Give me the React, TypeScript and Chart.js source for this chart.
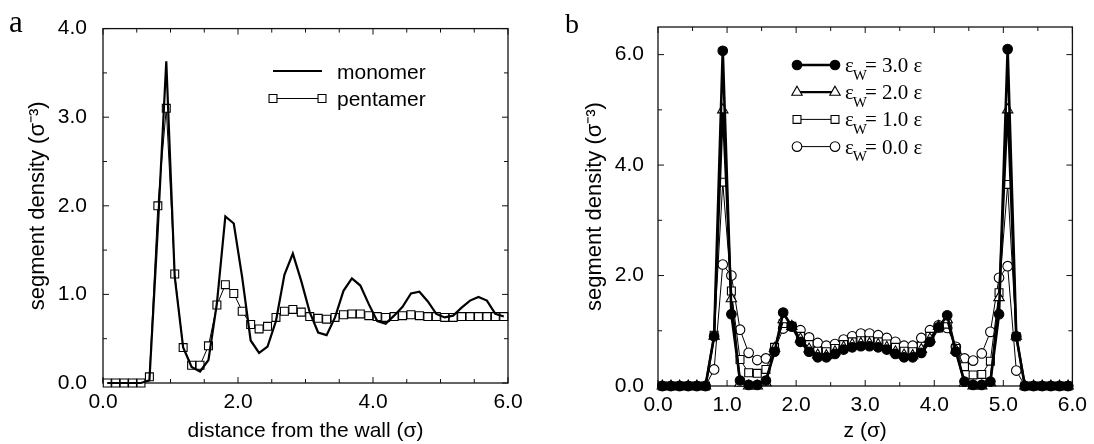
import React, { useEffect, useRef } from 'react';
import { Chart, registerables } from 'chart.js';

Chart.register(...registerables);

const SANS = '"Liberation Sans", Arial, Helvetica, sans-serif';
const SERIF = '"Liberation Serif", "Times New Roman", serif';

// sample positions (sigma), shared by both panels
const xPositions = [
  0.0625, 0.1875, 0.3125, 0.4375, 0.5625, 0.6875, 0.8125, 0.9375, 1.0625, 1.1875, 1.3125, 1.4375,
  1.5625, 1.6875, 1.8125, 1.9375, 2.0625, 2.1875, 2.3125, 2.4375, 2.5625, 2.6875, 2.8125, 2.9375,
  3.0625, 3.1875, 3.3125, 3.4375, 3.5625, 3.6875, 3.8125, 3.9375, 4.0625, 4.1875, 4.3125, 4.4375,
  4.5625, 4.6875, 4.8125, 4.9375, 5.0625, 5.1875, 5.3125, 5.4375, 5.5625, 5.6875, 5.8125, 5.9375,
];

// panel a
const monomerDensity = [
  0, 0, 0, 0, 0, 0.03, 1.75, 3.63, 1.2, 0.4, 0.18, 0.13,
  0.26, 0.9, 1.88, 1.8, 1.19, 0.48, 0.34, 0.41, 0.7, 1.22, 1.46, 1.15,
  0.8, 0.57, 0.54, 0.74, 1.04, 1.18, 1.1, 0.89, 0.7, 0.67, 0.76, 0.86,
  1.01, 1.03, 0.92, 0.78, 0.74, 0.76, 0.85, 0.93, 0.97, 0.93, 0.78, 0.75,
];
const pentamerDensity = [
  0, 0, 0, 0, 0, 0.07, 2.0, 3.1, 1.23, 0.4, 0.2, 0.2,
  0.42, 0.88, 1.11, 1.01, 0.81, 0.66, 0.61, 0.64, 0.74, 0.81, 0.83, 0.8,
  0.75, 0.73, 0.72, 0.74, 0.77, 0.78, 0.78, 0.76, 0.75, 0.74, 0.75, 0.76,
  0.77, 0.76, 0.75, 0.75, 0.74, 0.74, 0.75, 0.75, 0.75, 0.75, 0.75, 0.75,
];

// panel b
const epsW30 = [
  0, 0, 0, 0, 0, 0, 0.9, 6.07, 1.3, 0.1, 0.02, 0.02,
  0.1, 0.62, 1.33, 1.08, 0.8, 0.62, 0.52, 0.52, 0.58, 0.66, 0.7, 0.72,
  0.72, 0.7, 0.66, 0.58, 0.52, 0.52, 0.6, 0.8, 1.06, 1.28, 0.62, 0.08,
  0.02, 0.02, 0.08, 1.3, 6.1, 0.9, 0, 0, 0, 0, 0, 0,
];
const epsW20 = [
  0, 0, 0, 0, 0, 0, 0.9, 5.0, 1.58, 0.05, 0.0, 0.0,
  0.06, 0.68, 1.2, 1.08, 0.85, 0.67, 0.56, 0.55, 0.62, 0.7, 0.75, 0.77,
  0.77, 0.75, 0.7, 0.62, 0.56, 0.55, 0.66, 0.85, 1.08, 1.2, 0.65, 0.05,
  0.0, 0.0, 0.06, 1.6, 5.0, 0.9, 0, 0, 0, 0, 0, 0,
];
const epsW10 = [
  0, 0, 0, 0, 0, 0, 0.92, 3.69, 1.72, 0.48, 0.24, 0.23,
  0.3, 0.7, 1.13, 1.08, 0.9, 0.75, 0.63, 0.62, 0.68, 0.75, 0.8, 0.82,
  0.82, 0.8, 0.76, 0.7, 0.63, 0.62, 0.72, 0.9, 1.05, 1.12, 0.68, 0.35,
  0.2, 0.21, 0.45, 1.69, 3.65, 0.89, 0, 0, 0, 0, 0, 0,
];
const epsW00 = [
  0, 0, 0, 0, 0, 0, 0.3, 2.2, 2.0, 1.02, 0.6, 0.47,
  0.5, 0.65, 1.04, 1.08, 1.01, 0.88, 0.78, 0.73, 0.76, 0.84, 0.9, 0.95,
  0.95, 0.92, 0.87, 0.8, 0.73, 0.73, 0.87, 1.01, 1.1, 1.05, 0.71, 0.5,
  0.46, 0.59, 0.98, 1.96, 2.17, 0.28, 0, 0, 0, 0, 0, 0,
];

const panelLabels = ['a', 'b'];
const seriesLabelsA = ['monomer', 'pentamer'];
const seriesLabelsB = ['ε_W= 3.0 ε', 'ε_W= 2.0 ε', 'ε_W= 1.0 ε', 'ε_W= 0.0 ε'];
const xTitleA = 'distance from the wall (σ)';
const xTitleB = 'z (σ)';
const yTitle = 'segment density (σ⁻³)';

const toPoints = (ys: number[]) => ys.map((y, i) => ({ x: xPositions[i], y }));

function drawMarker(ctx: CanvasRenderingContext2D, style: string, x: number, y: number, r: number, fill: string, lw: number) {
  ctx.beginPath();
  if (style === 'rect') {
    const s = r * Math.SQRT1_2;
    ctx.rect(x - s, y - s, 2 * s, 2 * s);
  } else if (style === 'triangle') {
    let rad = 0;
    ctx.moveTo(x + Math.sin(rad) * r, y - Math.cos(rad) * r);
    rad += (2 * Math.PI) / 3;
    ctx.lineTo(x + Math.sin(rad) * r, y - Math.cos(rad) * r);
    rad += (2 * Math.PI) / 3;
    ctx.lineTo(x + Math.sin(rad) * r, y - Math.cos(rad) * r);
    ctx.closePath();
  } else {
    ctx.arc(x, y, r, 0, Math.PI * 2);
  }
  ctx.fillStyle = fill;
  ctx.fill();
  ctx.lineWidth = lw;
  ctx.strokeStyle = '#000';
  ctx.stroke();
}

const frameTicksPlugin = {
  id: 'frameTicks',
  beforeDatasetsDraw(chart: any, _args: any, o: any) {
    const { ctx, chartArea } = chart;
    const { left, right, top, bottom } = chartArea;
    const xs = chart.scales.x;
    const ys = chart.scales.y;
    ctx.save();
    ctx.strokeStyle = '#111';
    ctx.lineWidth = 1.3;
    ctx.strokeRect(left, top, right - left, bottom - top);
    ctx.lineWidth = 1;
    ctx.beginPath();
    const isMajor = (v: number, step: number) => Math.abs(v / step - Math.round(v / step)) < 1e-6;
    const nx = Math.round((xs.max - xs.min) / o.xMinor);
    for (let k = 0; k <= nx; k++) {
      const v = xs.min + k * o.xMinor;
      const p = xs.getPixelForValue(v);
      const len = isMajor(v, o.xMajor) ? o.major : o.minor;
      ctx.moveTo(p, bottom);
      ctx.lineTo(p, bottom - len);
      ctx.moveTo(p, top);
      ctx.lineTo(p, top + len);
    }
    const ny = Math.floor((ys.max - ys.min) / o.yMinor + 1e-6);
    for (let k = 0; k <= ny; k++) {
      const v = ys.min + k * o.yMinor;
      const p = ys.getPixelForValue(v);
      const len = isMajor(v, o.yMajor) ? o.major : o.minor;
      ctx.moveTo(left, p);
      ctx.lineTo(left + len, p);
      ctx.moveTo(right, p);
      ctx.lineTo(right - len, p);
    }
    ctx.stroke();
    ctx.restore();
  },
};

const sampleLegendPlugin = {
  id: 'sampleLegend',
  afterDraw(chart: any, _args: any, o: any) {
    const ctx: CanvasRenderingContext2D = chart.ctx;
    chart.data.datasets.forEach((ds: any, i: number) => {
      const y = o.y0 + i * o.dy;
      ctx.save();
      ctx.strokeStyle = '#000';
      ctx.lineWidth = ds.borderWidth;
      ctx.beginPath();
      ctx.moveTo(o.x1, y);
      ctx.lineTo(o.x2, y);
      ctx.stroke();
      if (ds.pointRadius > 0) {
        drawMarker(ctx, ds.pointStyle, o.x1, y, ds.pointRadius, ds.pointBackgroundColor, ds.pointBorderWidth);
        drawMarker(ctx, ds.pointStyle, o.x2, y, ds.pointRadius, ds.pointBackgroundColor, ds.pointBorderWidth);
      }
      ctx.fillStyle = '#000';
      ctx.textBaseline = 'alphabetic';
      ctx.textAlign = 'left';
      ctx.font = o.font;
      const base = y + o.baseOff;
      let x = o.textX;
      const parts = String(ds.label).split('_');
      ctx.fillText(parts[0], x, base);
      x += ctx.measureText(parts[0]).width;
      for (let k = 1; k < parts.length; k++) {
        const sub = parts[k].slice(0, 1);
        const rest = parts[k].slice(1);
        ctx.font = o.subFont;
        ctx.fillText(sub, x - 1, base + o.subOff);
        x += ctx.measureText(sub).width + o.subGap;
        ctx.font = o.font;
        ctx.fillText(rest, x, base);
        x += ctx.measureText(rest).width;
      }
      ctx.restore();
    });
  },
};

const panelLabelPlugin = {
  id: 'panelLabel',
  afterDraw(chart: any, _args: any, o: any) {
    const ctx: CanvasRenderingContext2D = chart.ctx;
    ctx.save();
    ctx.fillStyle = '#000';
    ctx.font = o.font;
    ctx.textAlign = 'left';
    ctx.textBaseline = 'alphabetic';
    ctx.fillText(o.text, o.x, o.y);
    ctx.restore();
  },
};

const tickFont = { family: SANS, size: 21 };
const titleFont = { family: SANS, size: 21 };
const fmt = (v: any) => Number(v).toFixed(1);

function axisX(max: number, step: number, title: string, height: number, pad: number) {
  return {
    type: 'linear',
    min: 0,
    max,
    grid: { display: false, drawTicks: false },
    border: { display: false },
    ticks: { stepSize: step, includeBounds: false, padding: pad, font: tickFont, color: '#000', callback: fmt, maxRotation: 0, autoSkip: false },
    title: { display: true, text: title, font: titleFont, color: '#000', padding: { top: 0, bottom: 0 } },
    afterFit: (s: any) => { s.height = height; },
  };
}
function axisY(max: number, step: number, width: number, pad: number, titlePad: number) {
  return {
    type: 'linear',
    min: 0,
    max,
    grid: { display: false, drawTicks: false },
    border: { display: false },
    ticks: { stepSize: step, includeBounds: false, padding: pad, font: tickFont, color: '#000', callback: fmt, autoSkip: false },
    title: { display: true, text: yTitle, font: { family: SANS, size: 22 }, color: '#000', padding: { top: titlePad, bottom: 0 } },
    afterFit: (s: any) => { s.width = width; },
  };
}

function configA(): any {
  return {
    type: 'scatter',
    data: {
      datasets: [
        {
          label: seriesLabelsA[0], data: toPoints(monomerDensity), showLine: true, borderColor: '#000', borderWidth: 2.2,
          pointRadius: 0, pointStyle: 'circle', pointBackgroundColor: '#000', pointBorderWidth: 0, tension: 0, clip: false,
        },
        {
          label: seriesLabelsA[1], data: toPoints(pentamerDensity), showLine: true, borderColor: '#000', borderWidth: 1,
          pointRadius: 5.6, pointStyle: 'rect', pointBackgroundColor: '#fff', pointBorderColor: '#000', pointBorderWidth: 1.1, tension: 0, clip: false,
        },
      ],
    },
    options: {
      responsive: false, animation: false, devicePixelRatio: 1,
      layout: { padding: { left: 0, top: 24, right: 39, bottom: 0 } },
      scales: { x: axisX(6, 2, xTitleA, 61, 7), y: axisY(4, 1, 103, 16, 25) },
      plugins: {
        legend: { display: false }, tooltip: { enabled: false },
        frameTicks: { xMinor: 0.5, xMajor: 2, yMinor: 0.5, yMajor: 1, major: 6, minor: 4 },
        sampleLegend: { x1: 273, x2: 322, textX: 337, y0: 71, dy: 27.5, baseOff: 7.5, font: `21px ${SANS}`, subFont: `14px ${SANS}`, subOff: 6, subGap: 0 },
        panelLabel: { text: panelLabels[0], x: 9, y: 32, font: `31px ${SERIF}` },
      },
    },
    plugins: [frameTicksPlugin, sampleLegendPlugin, panelLabelPlugin],
  };
}

function configB(): any {
  const mk = (i: number, data: number[], style: string, r: number, fill: string, lw: number) => ({
    label: seriesLabelsB[i], data: toPoints(data), showLine: true, borderColor: '#000', borderWidth: lw,
    pointRadius: r, pointStyle: style, pointBackgroundColor: fill, pointBorderColor: '#000', pointBorderWidth: 1.1, tension: 0, clip: false,
  });
  return {
    type: 'scatter',
    data: {
      datasets: [
        mk(0, epsW30, 'circle', 4.8, '#000', 2.6),
        mk(1, epsW20, 'triangle', 6, '#fff', 2.2),
        mk(2, epsW10, 'rect', 5.6, '#fff', 1),
        mk(3, epsW00, 'circle', 4.8, '#fff', 1),
      ],
    },
    options: {
      responsive: false, animation: false, devicePixelRatio: 1,
      layout: { padding: { left: 0, top: 27, right: 16, bottom: 0 } },
      scales: { x: axisX(6, 1, xTitleB, 58, 7), y: axisY(6.5, 2, 111, 14, 35) },
      plugins: {
        legend: { display: false }, tooltip: { enabled: false },
        frameTicks: { xMinor: 0.5, xMajor: 1, yMinor: 1, yMajor: 2, major: 6, minor: 4 },
        sampleLegend: { x1: 250, x2: 288, textX: 298, y0: 65, dy: 27.2, baseOff: 7, font: `21px ${SERIF}`, subFont: `15px ${SERIF}`, subOff: 7.5, subGap: -3 },
        panelLabel: { text: panelLabels[1], x: 18, y: 33, font: `28px ${SERIF}` },
      },
    },
    plugins: [frameTicksPlugin, sampleLegendPlugin, panelLabelPlugin],
  };
}

function Panel({ make, left }: { make: () => any; left: number }) {
  const ref = useRef<HTMLCanvasElement>(null);
  useEffect(() => {
    const chart = new Chart(ref.current as HTMLCanvasElement, make());
    return () => chart.destroy();
  }, []);
  return (
    <canvas ref={ref} width={547} height={444} style={{ position: 'absolute', left, top: 0, width: 547, height: 444 }} />
  );
}

export default function App() {
  return (
    <div style={{ position: 'absolute', left: 0, top: 0, width: 1094, height: 444, background: '#fff' }}>
      <Panel make={configA} left={0} />
      <Panel make={configB} left={547} />
    </div>
  );
}
